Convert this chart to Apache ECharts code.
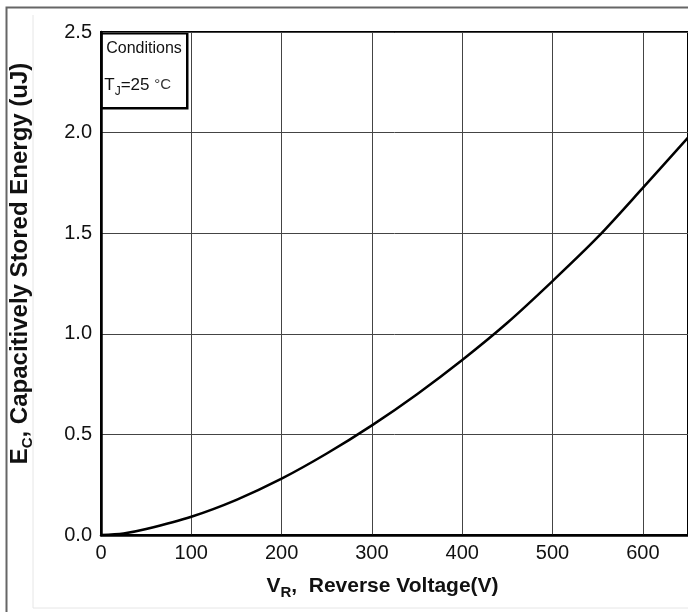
<!DOCTYPE html>
<html>
<head>
<meta charset="utf-8">
<script src="https://cdn.jsdelivr.net/npm/echarts@6/dist/echarts.min.js"></script>
<style>html,body{margin:0;padding:0;background:#fff}#c{width:688px;height:612px}</style>
</head>
<body>
<div id="c"></div>
<script>
// Reverse voltage (V)
var voltage = [0, 25, 50, 100, 150, 200, 250, 300, 350, 400, 450, 500, 550, 600, 650];
// Capacitively stored energy (uJ)
var energy = [0, 0.008, 0.03, 0.091, 0.175, 0.28, 0.405, 0.545, 0.70, 0.87, 1.055, 1.262, 1.48, 1.725, 1.975];
var xTicks = [0, 100, 200, 300, 400, 500, 600];
var yTicks = ['0.0', '0.5', '1.0', '1.5', '2.0', '2.5'];

var FONT = '"Liberation Sans", Arial, sans-serif';
var chart = echarts.init(document.getElementById('c'), null, {renderer: 'canvas'});
var pts = voltage.map(function (v, i) { return [v, energy[i]]; });

chart.setOption({
  backgroundColor: '#fff',
  animation: false,
  grid: {left: 99, top: 32, width: 590, height: 503, show: true, borderColor: '#000', borderWidth: 2, backgroundColor: 'transparent'},
  xAxis: {
    type: 'value', min: 0, max: 650, interval: 100,
    axisLine: {show: true, lineStyle: {color: '#000', width: 2.5}},
    axisTick: {show: false},
    splitLine: {show: true, lineStyle: {color: '#444', width: 1}},
    axisLabel: {color: '#111', fontFamily: FONT, fontSize: 20, margin: 8, showMaxLabel: false,
      formatter: function (v) { return xTicks.indexOf(v) >= 0 ? String(v) : ''; }},
    name: '{b|V}{s|R}{b|,  Reverse Voltage(V)}',
    nameLocation: 'middle', nameGap: 37,
    nameTextStyle: {padding: [0, 24, 0, 0],
      rich: {
        b: {fontFamily: FONT, fontWeight: 'bold', fontSize: 21, color: '#111', lineHeight: 28, verticalAlign: 'middle'},
        s: {fontFamily: FONT, fontWeight: 'bold', fontSize: 15, color: '#111', lineHeight: 28, verticalAlign: 'bottom'}
      }}
  },
  yAxis: {
    type: 'value', min: 0, max: 2.5, interval: 0.5,
    axisLine: {show: true, lineStyle: {color: '#000', width: 2.5}},
    axisTick: {show: false},
    splitLine: {show: true, lineStyle: {color: '#444', width: 1}},
    axisLabel: {color: '#111', fontFamily: FONT, fontSize: 20, margin: 9,
      formatter: function (v) { return yTicks[Math.round(v / 0.5)]; }},
    name: '{b|E}{s|C}{b|, Capacitively Stored Energy (uJ)}',
    nameLocation: 'middle', nameGap: 66, nameRotate: 90,
    nameTextStyle: {padding: [0, 0, 0, 40],
      rich: {
        b: {fontFamily: FONT, fontWeight: 'bold', fontSize: 24, color: '#111', lineHeight: 30, verticalAlign: 'middle'},
        s: {fontFamily: FONT, fontWeight: 'bold', fontSize: 15, color: '#111', lineHeight: 30, verticalAlign: 'bottom'}
      }}
  },
  series: [{
    type: 'line', data: pts, smooth: 0.3, showSymbol: false,
    lineStyle: {color: '#000', width: 2.5}, z: 5
  }],
  graphic: [
    {type: 'rect', left: 4, top: 5, z: -10, silent: true,
      shape: {width: 720, height: 640}, style: {fill: 'none', stroke: '#666', lineWidth: 2}},
    {type: 'line', z: -10, silent: true, shape: {x1: 33, y1: 15, x2: 33, y2: 608}, style: {stroke: '#e6e6e6', lineWidth: 1}},
    {type: 'line', z: -10, silent: true, shape: {x1: 33, y1: 608, x2: 700, y2: 608}, style: {stroke: '#e6e6e6', lineWidth: 1}},
    {type: 'group', left: 100, top: 32, z: 100, children: [
      {type: 'rect', shape: {x: 1, y: 1, width: 86, height: 75}, style: {fill: '#fff', stroke: '#000', lineWidth: 2.5}},
      {type: 'text', x: 6, y: 8, style: {text: 'Conditions', fontFamily: FONT, fontSize: 16, fill: '#111'}},
      {type: 'text', x: 4, y: 41, style: {
        text: '{a|T}{s|J}{a|=25 }{d|°C}',
        rich: {
          a: {fontFamily: FONT, fontSize: 17, fill: '#111', lineHeight: 24, verticalAlign: 'middle'},
          s: {fontFamily: FONT, fontSize: 12, fill: '#111', lineHeight: 24, verticalAlign: 'bottom'},
          d: {fontFamily: FONT, fontSize: 15, fill: '#333', lineHeight: 24, verticalAlign: 'middle'}
        }}}
    ]}
  ]
});
</script>
</body>
</html>
